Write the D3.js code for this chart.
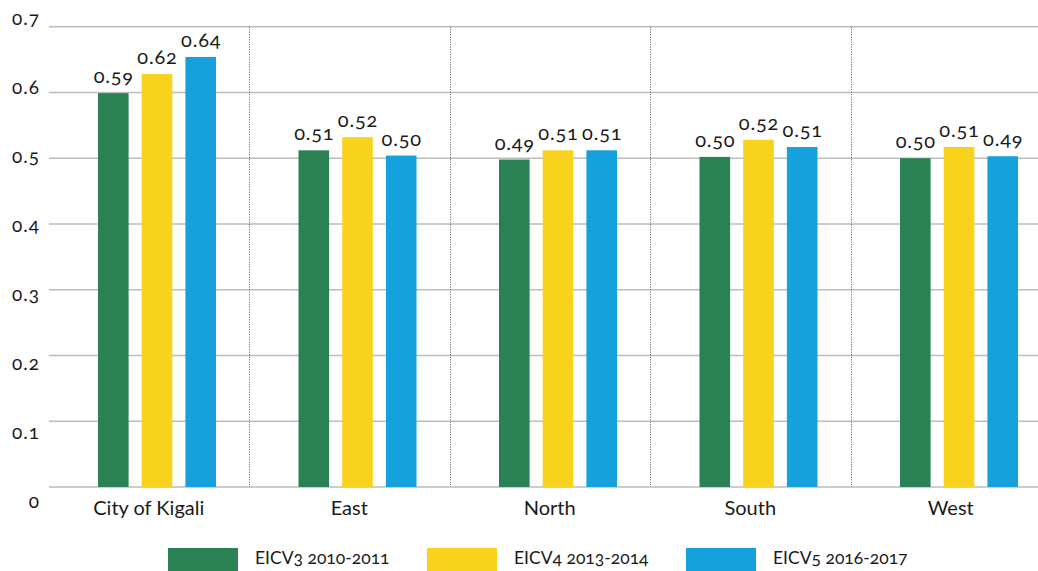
<!DOCTYPE html>
<html>
<head>
<meta charset="utf-8">
<script src="https://cdn.jsdelivr.net/npm/d3@7"></script>
<style>
  html, body { margin: 0; padding: 0; background: #fff; }
  svg text { font-family: Lato, "Open Sans", sans-serif; font-variant-numeric: oldstyle-nums; font-feature-settings: "onum" 1; fill: #1a1a1a; }
</style>
</head>
<body>
<svg id="chart" width="1038" height="571"></svg>
<script>
const categories = ["City of Kigali", "East", "North", "South", "West"];
const seriesNames = ["EICV3 2010-2011", "EICV4 2013-2014", "EICV5 2016-2017"];
const eicv3 = [0.599, 0.512, 0.498, 0.502, 0.500];
const eicv4 = [0.628, 0.532, 0.512, 0.528, 0.517];
const eicv5 = [0.654, 0.504, 0.512, 0.517, 0.503];
const eicv3Labels = ["0.59", "0.51", "0.49", "0.50", "0.50"];
const eicv4Labels = ["0.62", "0.52", "0.51", "0.52", "0.51"];
const eicv5Labels = ["0.64", "0.50", "0.51", "0.51", "0.49"];
const yTicks = [0, 0.1, 0.2, 0.3, 0.4, 0.5, 0.6, 0.7];
const yTickLabels = ["0", "0.1", "0.2", "0.3", "0.4", "0.5", "0.6", "0.7"];
const colors = ["#2a8154", "#f8d21c", "#14a1dc"];

const seriesValues = [eicv3, eicv4, eicv5];
const seriesLabels = [eicv3Labels, eicv4Labels, eicv5Labels];

const svg = d3.select("#chart");

const x0 = d3.scaleBand().domain(categories).range([48.5, 1051]).padding(0);
const x1 = d3.scaleBand().domain(seriesNames).range([49.5, 167.5]).paddingInner(0.3).paddingOuter(0);
const y = d3.scaleLinear().domain([0, 0.7]).range([487, 26.7]);
const yLab = d3.scaleLinear().domain([0, 0.7]).range([503, 20]);

// gridlines
svg.append("g").selectAll("line").data(yTicks).join("line")
  .attr("x1", 49).attr("x2", 1038)
  .attr("y1", d => y(d)).attr("y2", d => y(d))
  .attr("stroke", "#bdbdbd").attr("stroke-width", 1.6);

// y tick labels
svg.append("g").selectAll("text").data(yTicks).join("text")
  .attr("x", 40).attr("y", d => yLab(d))
  .attr("text-anchor", "end").attr("dominant-baseline", "middle")
  .attr("font-size", 19).attr("letter-spacing", 1)
  .text((d, i) => yTickLabels[i]);

// separators
svg.append("g").selectAll("line").data(categories.slice(1)).join("line")
  .attr("x1", d => Math.round(x0(d)) + 0.5).attr("x2", d => Math.round(x0(d)) + 0.5)
  .attr("y1", y(0.7)).attr("y2", y(0))
  .attr("stroke", "#555").attr("stroke-width", 1).attr("stroke-dasharray", "1,1.5");

// bars
const groups = svg.append("g").selectAll("g").data(categories).join("g")
  .attr("transform", d => `translate(${x0(d)},0)`);

seriesNames.forEach((s, si) => {
  groups.append("rect")
    .attr("x", x1(s)).attr("width", x1.bandwidth())
    .attr("y", (d, ci) => y(seriesValues[si][ci]))
    .attr("height", (d, ci) => y(0) - y(seriesValues[si][ci]))
    .attr("fill", colors[si]);
  groups.append("text")
    .attr("x", x1(s) + x1.bandwidth() / 2 + 0.5)
    .attr("y", (d, ci) => y(seriesValues[si][ci]) - 10)
    .attr("text-anchor", "middle")
    .attr("font-size", 20).attr("letter-spacing", 0.8)
    .text((d, ci) => seriesLabels[si][ci]);
});

// category labels
svg.append("g").selectAll("text").data(categories).join("text")
  .attr("x", d => x0(d) + x0.bandwidth() / 2)
  .attr("y", 515)
  .attr("text-anchor", "middle")
  .attr("font-size", 20)
  .text(d => d);

// legend
const legendX = [168, 427, 686];
const lg = svg.append("g").selectAll("g").data(seriesNames).join("g")
  .attr("transform", (d, i) => `translate(${legendX[i]},548)`);
lg.append("rect").attr("width", 70).attr("height", 23).attr("fill", (d, i) => colors[i]);
lg.append("text").attr("x", 87).attr("y", 12).attr("dominant-baseline", "middle")
  .attr("font-size", 17.5).text(d => d);
</script>
</body>
</html>
